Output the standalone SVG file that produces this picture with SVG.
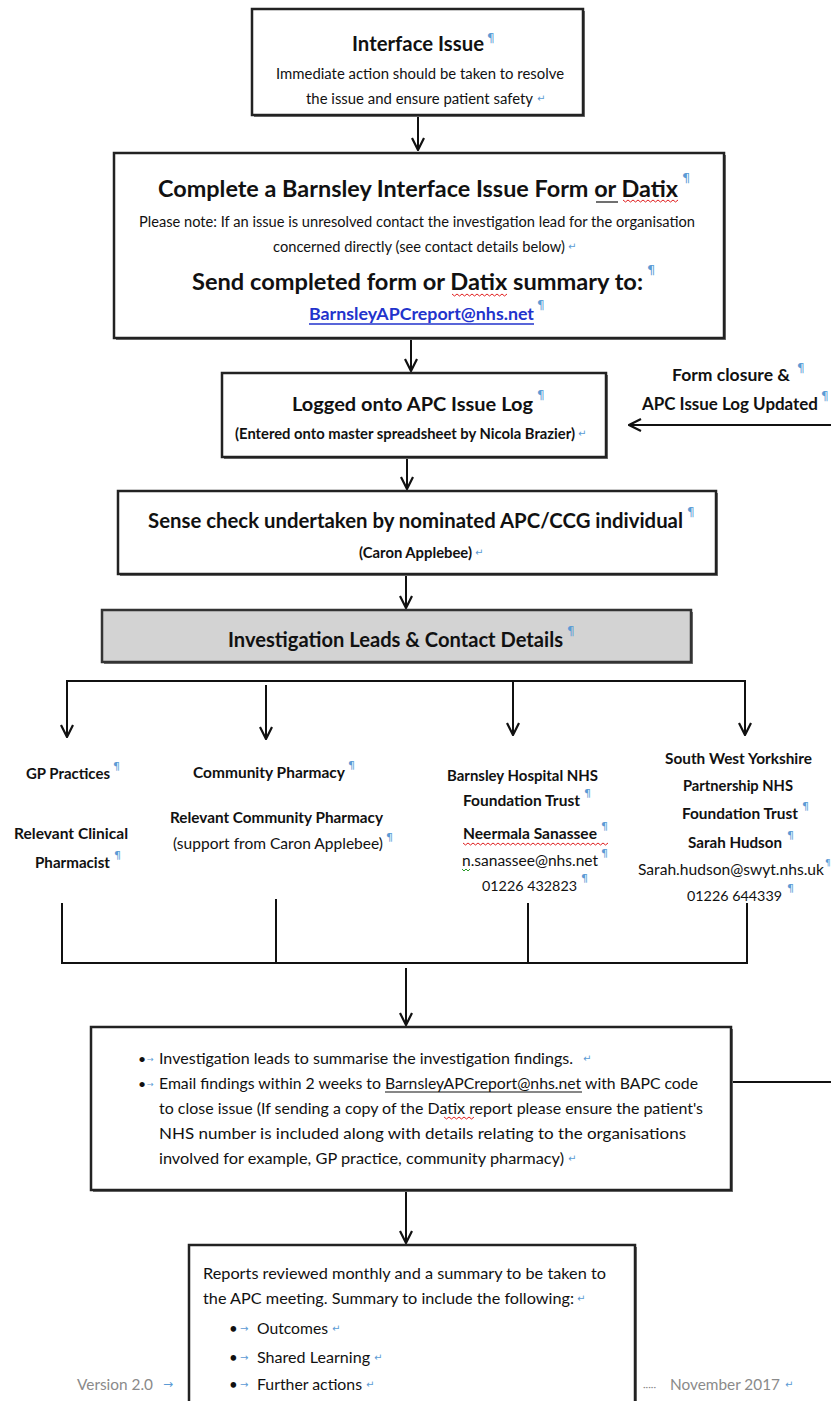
<svg xmlns="http://www.w3.org/2000/svg" width="831" height="1401" viewBox="0 0 831 1401">
<defs>
<style>
.t{font-family:Lato,"Open Sans","Liberation Sans",sans-serif;fill:#111}
.b{font-weight:700}
.lnk{fill:#2233cc}
.g{fill:#8a8a8a}
.pm{font-family:"DejaVu Sans",sans-serif;fill:#5b9bd5;font-weight:400}
.box{fill:#fff;stroke:#222;stroke-width:2.5}
.sh{fill:#777}
.grey{fill:#d3d3d3;stroke:#333;stroke-width:2.5}
.con{stroke:#111;stroke-width:2;fill:none}
.sq{stroke:#e02020;stroke-width:1;fill:none}
.ul{stroke:#111;stroke-width:1.2}
</style>
<marker id="arr" markerUnits="userSpaceOnUse" viewBox="0 0 14 14" refX="13" refY="7" markerWidth="14" markerHeight="14" orient="auto">
<path d="M1,1 L13,7 L1,13" fill="none" stroke="#111" stroke-width="2.2"/>
</marker>
</defs>
<rect width="831" height="1401" fill="#fff"/>

<g id="connectors">
<line class="con" x1="418" y1="116" x2="418" y2="150" marker-end="url(#arr)"/>
<line class="con" x1="411" y1="339" x2="411" y2="371" marker-end="url(#arr)"/>
<line class="con" x1="831" y1="425" x2="629" y2="425" marker-end="url(#arr)"/>
<line class="con" x1="407" y1="458" x2="407" y2="489" marker-end="url(#arr)"/>
<line class="con" x1="406" y1="575" x2="406" y2="608" marker-end="url(#arr)"/>
<line class="con" x1="66" y1="681" x2="746" y2="681"/>
<line class="con" x1="67" y1="680" x2="67" y2="737" marker-end="url(#arr)"/>
<line class="con" x1="266" y1="685" x2="266" y2="739" marker-end="url(#arr)"/>
<line class="con" x1="513" y1="680" x2="513" y2="735" marker-end="url(#arr)"/>
<line class="con" x1="745" y1="680" x2="745" y2="735" marker-end="url(#arr)"/>
<line class="con" x1="62" y1="903" x2="62" y2="963"/>
<line class="con" x1="276" y1="899" x2="276" y2="963"/>
<line class="con" x1="528" y1="903" x2="528" y2="963"/>
<line class="con" x1="747" y1="903" x2="747" y2="963"/>
<line class="con" x1="61" y1="963" x2="748" y2="963" stroke-width="3"/>
<line class="con" x1="406" y1="968" x2="406" y2="1025" marker-end="url(#arr)"/>
<line class="con" x1="731" y1="1082" x2="831" y2="1082" stroke-width="2.5"/>
<line class="con" x1="406" y1="1191" x2="406" y2="1243" marker-end="url(#arr)"/>
</g>

<g id="interface-issue">
<rect class="sh" x="254" y="11" width="331" height="106"/>
<rect class="box" x="252" y="9" width="331" height="106"/>
<text class="t b" x="352" y="51" font-size="20.2"><tspan textLength="132" lengthAdjust="spacingAndGlyphs">Interface Issue</tspan><tspan class="pm" dx="3" dy="-9" font-size="12">¶</tspan></text>
<text class="t" x="276" y="79" font-size="14.9" textLength="288" lengthAdjust="spacingAndGlyphs">Immediate action should be taken to resolve</text>
<text class="t" x="306" y="104" font-size="14.9"><tspan textLength="227" lengthAdjust="spacingAndGlyphs">the issue and ensure patient safety</tspan><tspan class="pm" dx="4" dy="-2" font-size="10">↵</tspan></text>
</g>

<g id="complete-form">
<rect class="sh" x="116" y="155" width="610" height="185"/>
<rect class="box" x="114" y="153" width="610" height="185"/>
<text class="t b" x="158" y="197" font-size="23.2"><tspan textLength="520" lengthAdjust="spacingAndGlyphs">Complete a Barnsley Interface Issue Form or Datix</tspan><tspan class="pm" dx="4" dy="-15" font-size="13">¶</tspan></text>
<line class="ul" x1="596" y1="202" x2="618" y2="202"/>
<path class="sq" d="M623,200 l2.5,2 l2.5,-2 l2.5,2 l2.5,-2 l2.5,2 l2.5,-2 l2.5,2 l2.5,-2 l2.5,2 l2.5,-2 l2.5,2 l2.5,-2 l2.5,2 l2.5,-2 l2.5,2 l2.5,-2 l2.5,2 l2.5,-2 l2.5,2 l2.5,-2 l2.5,2 l2.5,-2"/>
<text class="t" x="139" y="227" font-size="14.6" textLength="556" lengthAdjust="spacingAndGlyphs">Please note: If an issue is unresolved contact the investigation lead for the organisation</text>
<text class="t" x="273" y="252" font-size="14.6"><tspan textLength="292" lengthAdjust="spacingAndGlyphs">concerned directly (see contact details below)</tspan><tspan class="pm" dx="3" dy="-2" font-size="10">↵</tspan></text>
<text class="t b" x="192" y="290" font-size="23.4"><tspan textLength="451" lengthAdjust="spacingAndGlyphs">Send completed form or Datix summary to:</tspan><tspan class="pm" dx="4" dy="-16" font-size="13">¶</tspan></text>
<path class="sq" d="M452,294 l2.5,2 l2.5,-2 l2.5,2 l2.5,-2 l2.5,2 l2.5,-2 l2.5,2 l2.5,-2 l2.5,2 l2.5,-2 l2.5,2 l2.5,-2 l2.5,2 l2.5,-2 l2.5,2 l2.5,-2 l2.5,2 l2.5,-2 l2.5,2 l2.5,-2 l2.5,2 l2.5,-2"/>
<text class="t b lnk" x="309" y="320" font-size="17.6"><tspan textLength="225" lengthAdjust="spacingAndGlyphs">BarnsleyAPCreport@nhs.net</tspan><tspan class="pm" dx="3" dy="-11" font-size="12">¶</tspan></text>
<line x1="309" y1="324" x2="534" y2="324" stroke="#2233cc" stroke-width="1.3"/>
</g>

<g id="logged">
<rect class="sh" x="224" y="375" width="384" height="84"/>
<rect class="box" x="222" y="373" width="384" height="84"/>
<text class="t b" x="292" y="411" font-size="19.9"><tspan textLength="241" lengthAdjust="spacingAndGlyphs">Logged onto APC Issue Log</tspan><tspan class="pm" dx="4" dy="-12" font-size="12">¶</tspan></text>
<text class="t b" x="235" y="439" font-size="14.8"><tspan textLength="340" lengthAdjust="spacingAndGlyphs">(Entered onto master spreadsheet by Nicola Brazier)</tspan><tspan class="pm" dx="3" dy="-2" font-size="10">↵</tspan></text>
</g>

<g id="form-closure">
<text class="t b" x="672" y="381" font-size="17"><tspan textLength="118" lengthAdjust="spacingAndGlyphs">Form closure &amp;</tspan><tspan class="pm" dx="7" dy="-9" font-size="12">¶</tspan></text>
<text class="t b" x="642" y="410" font-size="16.9"><tspan textLength="176" lengthAdjust="spacingAndGlyphs">APC Issue Log Updated</tspan><tspan class="pm" dx="3" dy="-10" font-size="12">¶</tspan></text>
</g>

<g id="sense-check">
<rect class="sh" x="120" y="493" width="598" height="83"/>
<rect class="box" x="118" y="491" width="598" height="83"/>
<text class="t b" x="148" y="528" font-size="20.2"><tspan textLength="535" lengthAdjust="spacingAndGlyphs">Sense check undertaken by nominated APC/CCG individual</tspan><tspan class="pm" dx="4" dy="-12" font-size="12">¶</tspan></text>
<text class="t b" x="359" y="558" font-size="14.8"><tspan textLength="113" lengthAdjust="spacingAndGlyphs">(Caron Applebee)</tspan><tspan class="pm" dx="3" dy="-2" font-size="10">↵</tspan></text>
</g>

<g id="investigation-leads">
<rect class="sh" x="104" y="612" width="589" height="52"/>
<rect class="grey" x="102" y="610" width="589" height="52"/>
<text class="t b" x="228" y="647" font-size="20"><tspan textLength="335" lengthAdjust="spacingAndGlyphs">Investigation Leads &amp; Contact Details</tspan><tspan class="pm" dx="4" dy="-12" font-size="12">¶</tspan></text>
</g>

<g id="gp-practices">
<text class="t b" x="26" y="779" font-size="15"><tspan textLength="84" lengthAdjust="spacingAndGlyphs">GP Practices</tspan><tspan class="pm" dx="3" dy="-9" font-size="11">¶</tspan></text>
<text class="t b" x="14" y="839" font-size="15.5" textLength="114" lengthAdjust="spacingAndGlyphs">Relevant Clinical</text>
<text class="t b" x="35" y="868" font-size="15"><tspan textLength="75" lengthAdjust="spacingAndGlyphs">Pharmacist</tspan><tspan class="pm" dx="4" dy="-9" font-size="11">¶</tspan></text>
</g>

<g id="community-pharmacy">
<text class="t b" x="193" y="778" font-size="15.4"><tspan textLength="152" lengthAdjust="spacingAndGlyphs">Community Pharmacy</tspan><tspan class="pm" dx="3" dy="-9" font-size="11">¶</tspan></text>
<text class="t b" x="170" y="823" font-size="15.2" textLength="213" lengthAdjust="spacingAndGlyphs">Relevant Community Pharmacy</text>
<text class="t" x="173" y="849" font-size="15.4"><tspan textLength="210" lengthAdjust="spacingAndGlyphs">(support from Caron Applebee)</tspan><tspan class="pm" dx="3" dy="-8" font-size="11">¶</tspan></text>
</g>

<g id="barnsley-hospital">
<text class="t b" x="447" y="781" font-size="15" textLength="151" lengthAdjust="spacingAndGlyphs">Barnsley Hospital NHS</text>
<text class="t b" x="463" y="806" font-size="15.4"><tspan textLength="117" lengthAdjust="spacingAndGlyphs">Foundation Trust</tspan><tspan class="pm" dx="4" dy="-9" font-size="11">¶</tspan></text>
<text class="t b" x="463" y="839" font-size="15.5"><tspan textLength="134" lengthAdjust="spacingAndGlyphs">Neermala Sanassee</tspan><tspan class="pm" dx="4" dy="-9" font-size="11">¶</tspan></text>
<path class="sq" d="M463,843 l2.5,2 l2.5,-2 l2.5,2 l2.5,-2 l2.5,2 l2.5,-2 l2.5,2 l2.5,-2 l2.5,2 l2.5,-2 l2.5,2 l2.5,-2 l2.5,2 l2.5,-2 l2.5,2 l2.5,-2 l2.5,2 l2.5,-2 l2.5,2 l2.5,-2 l2.5,2 l2.5,-2 l2.5,2 l2.5,-2 l2.5,2 l2.5,-2 l2.5,2 l2.5,-2 l2.5,2 l2.5,-2 l2.5,2 l2.5,-2 l2.5,2 l2.5,-2 l2.5,2 l2.5,-2 l2.5,2 l2.5,-2 l2.5,2 l2.5,-2 l2.5,2 l2.5,-2 l2.5,2 l2.5,-2 l2.5,2 l2.5,-2 l2.5,2 l2.5,-2 l2.5,2 l2.5,-2 l2.5,2 l2.5,-2 l2.5,2 l2.5,-2 l2.5,2 l2.5,-2 l2.5,2 l2.5,-2"/>
<text class="t" x="462" y="866" font-size="15.5"><tspan textLength="136" lengthAdjust="spacingAndGlyphs">n.sanassee@nhs.net</tspan><tspan class="pm" dx="3" dy="-9" font-size="11">¶</tspan></text>
<path d="M462,869 l2,2 l2,-2 l2,2 l2,-2" stroke="#2a9a2a" stroke-width="1" fill="none"/>
<text class="t" x="482" y="891" font-size="14.2"><tspan textLength="95" lengthAdjust="spacingAndGlyphs">01226 432823</tspan><tspan class="pm" dx="4" dy="-9" font-size="11">¶</tspan></text>
</g>

<g id="south-west-yorkshire">
<text class="t b" x="665" y="764" font-size="15.3" textLength="147" lengthAdjust="spacingAndGlyphs">South West Yorkshire</text>
<text class="t b" x="683" y="791" font-size="14.6" textLength="110" lengthAdjust="spacingAndGlyphs">Partnership NHS</text>
<text class="t b" x="682" y="819" font-size="15.4"><tspan textLength="116" lengthAdjust="spacingAndGlyphs">Foundation Trust</tspan><tspan class="pm" dx="4" dy="-9" font-size="11">¶</tspan></text>
<text class="t b" x="688" y="848" font-size="15.1"><tspan textLength="94" lengthAdjust="spacingAndGlyphs">Sarah Hudson</tspan><tspan class="pm" dx="5" dy="-9" font-size="11">¶</tspan></text>
<text class="t" x="638" y="875" font-size="15.3"><tspan textLength="186" lengthAdjust="spacingAndGlyphs">Sarah.hudson@swyt.nhs.uk</tspan><tspan class="pm" dx="1" dy="-9" font-size="9">¶</tspan></text>
<text class="t" x="687" y="901" font-size="14.2"><tspan textLength="95" lengthAdjust="spacingAndGlyphs">01226 644339</tspan><tspan class="pm" dx="5" dy="-9" font-size="11">¶</tspan></text>
</g>

<g id="findings">
<rect class="sh" x="93" y="1029" width="640" height="163"/>
<rect class="box" x="91" y="1027" width="640" height="163"/>
<text class="t" x="138" y="1064" font-size="16"><tspan font-size="14">•</tspan><tspan class="pm" x="147" dy="-2" font-size="8">→</tspan><tspan x="159" dy="2" textLength="414" lengthAdjust="spacingAndGlyphs">Investigation leads to summarise the investigation findings.</tspan><tspan class="pm" x="583" dy="-2" font-size="10">↵</tspan></text>
<text class="t" x="138" y="1089" font-size="15.7"><tspan font-size="14">•</tspan><tspan class="pm" x="147" dy="-2" font-size="8">→</tspan><tspan x="159" dy="2" textLength="539" lengthAdjust="spacingAndGlyphs">Email findings within 2 weeks to BarnsleyAPCreport@nhs.net with BAPC code</tspan></text>
<line class="ul" x1="385" y1="1092" x2="582" y2="1092"/>
<text class="t" x="159" y="1114" font-size="16" textLength="544" lengthAdjust="spacingAndGlyphs">to close issue (If sending a copy of the Datix report please ensure the patient's</text>
<path class="sq" d="M444,1117 l2.5,2 l2.5,-2 l2.5,2 l2.5,-2 l2.5,2 l2.5,-2 l2.5,2 l2.5,-2 l2.5,2 l2.5,-2 l2.5,2 l2.5,-2"/>
<text class="t" x="159" y="1139" font-size="16" textLength="527" lengthAdjust="spacingAndGlyphs">NHS number is included along with details relating to the organisations</text>
<text class="t" x="159" y="1164" font-size="16"><tspan textLength="405" lengthAdjust="spacingAndGlyphs">involved for example, GP practice, community pharmacy)</tspan><tspan class="pm" dx="4" dy="-2" font-size="10">↵</tspan></text>
</g>

<g id="reports">
<rect class="sh" x="191" y="1247" width="446" height="170"/>
<rect class="box" x="189" y="1245" width="446" height="170"/>
<text class="t" x="203" y="1279" font-size="16" textLength="403" lengthAdjust="spacingAndGlyphs">Reports reviewed monthly and a summary to be taken to</text>
<text class="t" x="203" y="1304" font-size="16"><tspan textLength="371" lengthAdjust="spacingAndGlyphs">the APC meeting. Summary to include the following:</tspan><tspan class="pm" dx="3" dy="-2" font-size="10">↵</tspan></text>
<text class="t" x="229" y="1334" font-size="16"><tspan font-size="15">•</tspan><tspan class="pm" x="240" dy="-2" font-size="10">→</tspan><tspan x="257" dy="2" textLength="71" lengthAdjust="spacingAndGlyphs">Outcomes</tspan><tspan class="pm" dx="4" dy="-2" font-size="10">↵</tspan></text>
<text class="t" x="229" y="1363" font-size="16"><tspan font-size="15">•</tspan><tspan class="pm" x="240" dy="-2" font-size="10">→</tspan><tspan x="257" dy="2" textLength="113" lengthAdjust="spacingAndGlyphs">Shared Learning</tspan><tspan class="pm" dx="4" dy="-2" font-size="10">↵</tspan></text>
<text class="t" x="229" y="1390" font-size="16"><tspan font-size="15">•</tspan><tspan class="pm" x="240" dy="-2" font-size="10">→</tspan><tspan x="257" dy="2" textLength="105" lengthAdjust="spacingAndGlyphs">Further actions</tspan><tspan class="pm" dx="4" dy="-2" font-size="10">↵</tspan></text>
</g>

<g id="footer">
<text class="t g" x="77" y="1390" font-size="16"><tspan textLength="76" lengthAdjust="spacingAndGlyphs">Version 2.0</tspan><tspan class="pm" x="163" dy="-2" font-size="12">→</tspan></text>
<text class="t g" x="643" y="1390" font-size="15.4"><tspan font-size="10">·····</tspan><tspan x="670" textLength="110" lengthAdjust="spacingAndGlyphs">November 2017</tspan><tspan class="pm" dx="5" dy="-2" font-size="10">↵</tspan></text>
</g>
</svg>
